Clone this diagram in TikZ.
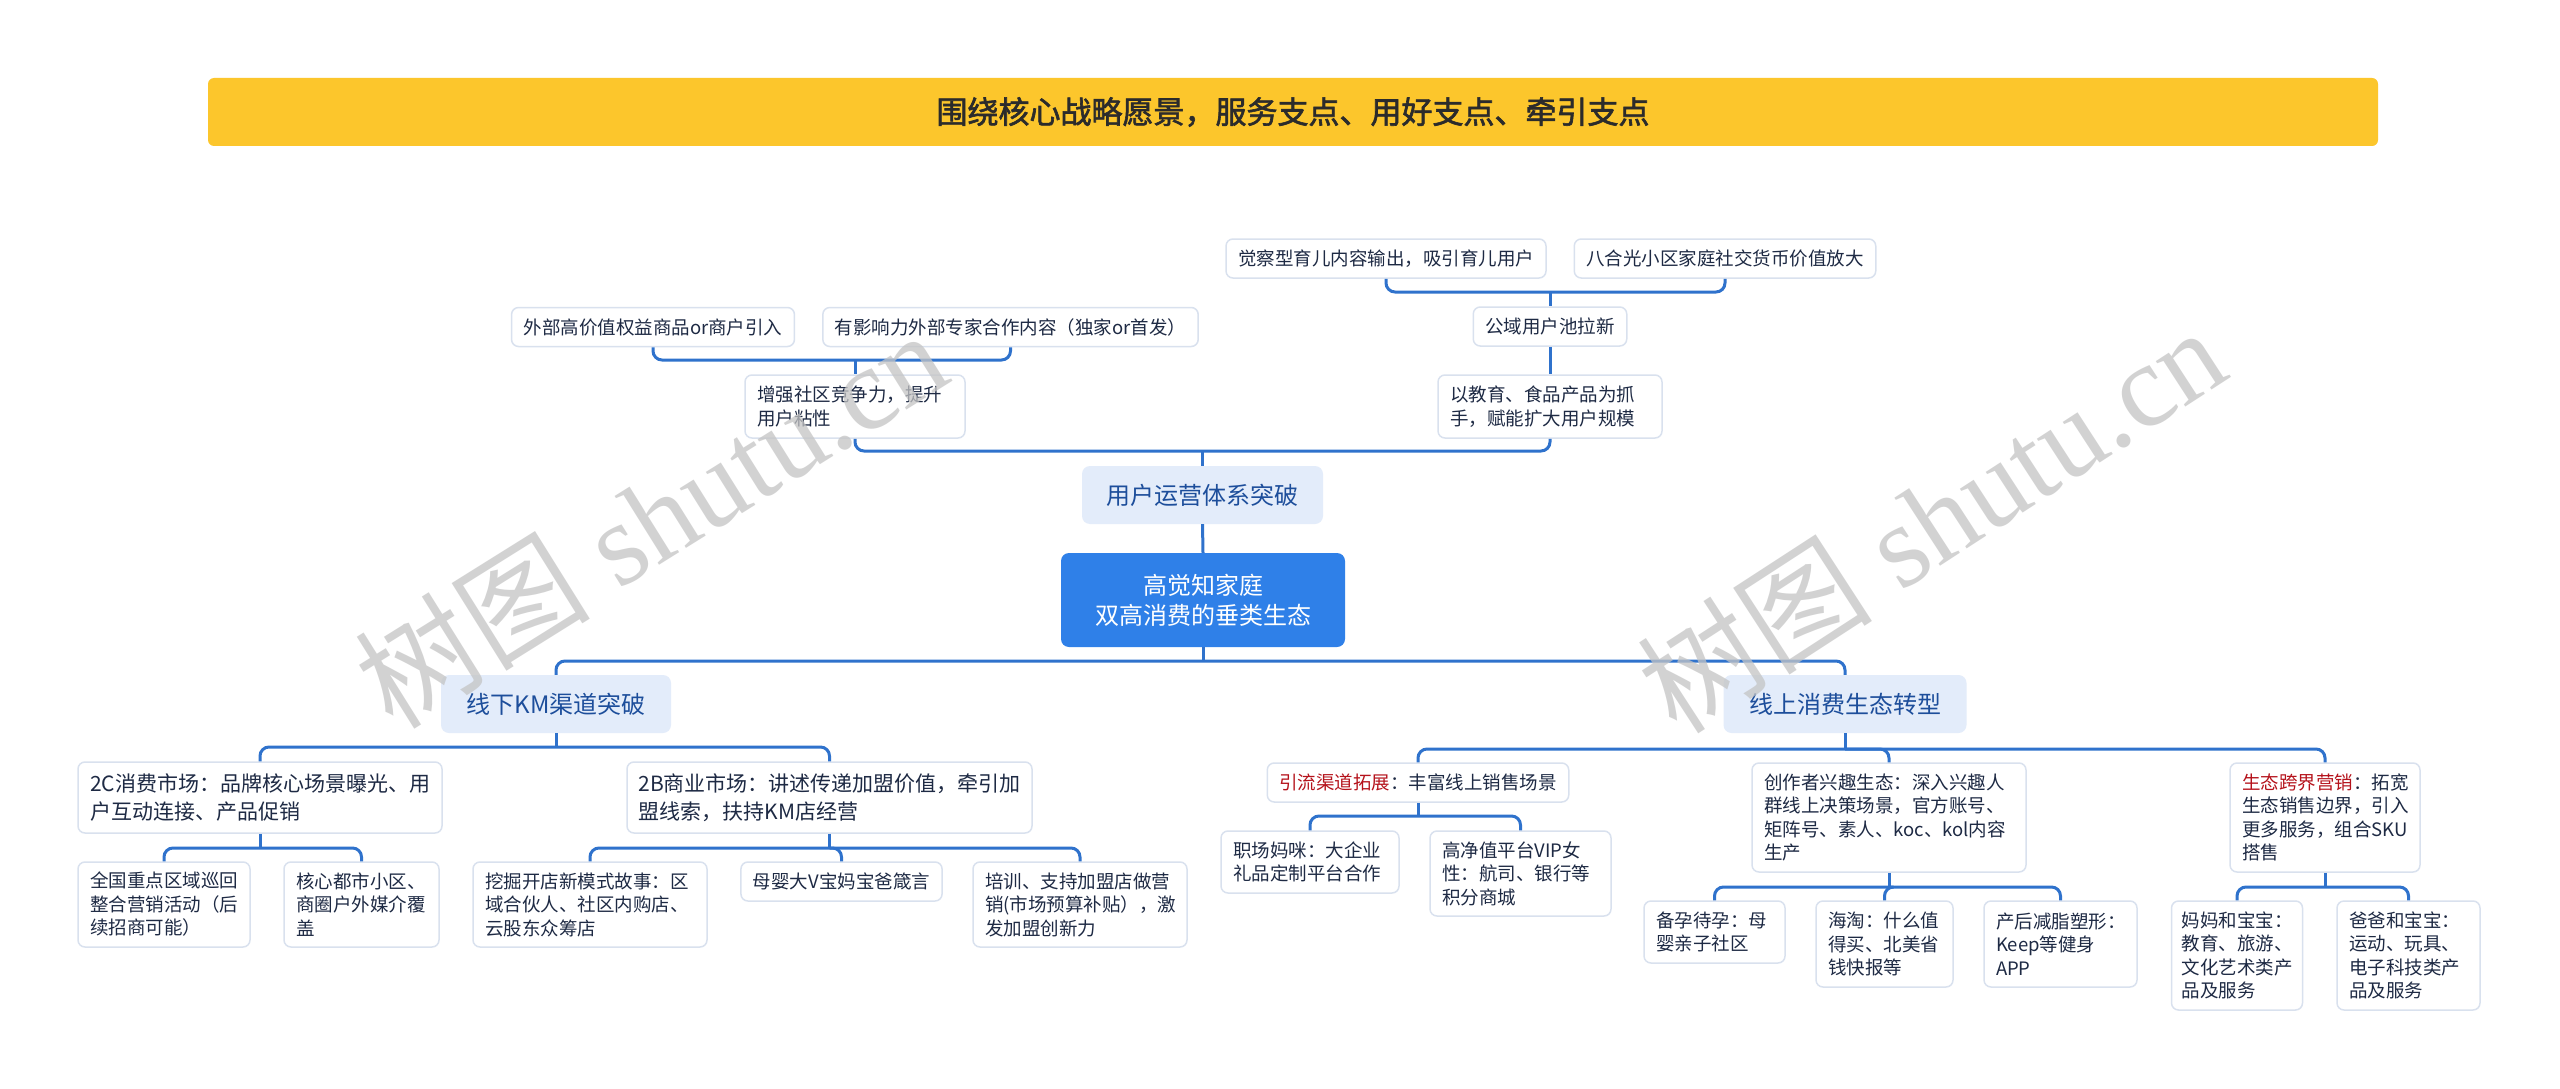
\documentclass[tikz,border=0pt]{standalone}
\usepackage{fontspec}
\setmainfont{Noto Sans CJK SC}
\newfontfamily\titlefont[FakeBold=2]{Noto Sans CJK SC}
\newfontfamily\wmcjk{Noto Sans CJK SC}
\newfontfamily\wmlatin{Liberation Serif}
\definecolor{conncol}{HTML}{2F72CC}
\definecolor{bordercol}{HTML}{D9E1EE}
\definecolor{txtcol}{HTML}{1E2A44}
\definecolor{lvlfill}{HTML}{E3ECFA}
\definecolor{lvltxt}{HTML}{1D4E9B}
\definecolor{rootfill}{HTML}{2F80E8}
\definecolor{titlefill}{HTML}{FCC62C}
\definecolor{titletxt}{HTML}{2B2B2B}
\definecolor{redtxt}{HTML}{B5121B}
\definecolor{wmcol}{HTML}{C4C4C4}
\tikzset{
 leaf/.style={draw=bordercol, line width=1.5pt, rounded corners=7pt, fill=white, text=txtcol,
   font=\fontsize{18.5}{23.5}\selectfont, align=left, inner xsep=12pt, inner ysep=6pt},
 bigleaf/.style={leaf, font=\fontsize{21}{27.7}\selectfont},
 lvl/.style={fill=lvlfill, draw=none, rounded corners=8pt, text=lvltxt,
   font=\fontsize{24}{30}\selectfont, inner sep=0pt, minimum height=58pt},
 rootbox/.style={fill=rootfill, draw=none, rounded corners=8pt, text=white,
   font=\fontsize{24}{30}\selectfont, align=center, inner sep=0pt, minimum width=284pt, minimum height=94pt},
 link/.style={draw=conncol, line width=3pt, rounded corners=9pt},
 wm/.style={text=wmcol, opacity=0.75, inner sep=0pt, font=\fontsize{118}{118}\selectfont},
}
\begin{document}
\begin{tikzpicture}[x=1pt,y=-1pt]
\useasboundingbox[fill=white] (0,0) rectangle (2560,1089);

% title
\node[fill=titlefill, rounded corners=6pt, minimum width=2170pt, minimum height=68pt, inner sep=0pt,
  text=titletxt, font=\titlefont\fontsize{31}{31}\selectfont] (title) at (1293,112)
  {围绕核心战略愿景，服务支点、用好支点、牵引支点};

% top branch
\node[leaf, minimum width=278pt, minimum height=39pt] (A1) at (653,327) {外部高价值权益商品or商户引入};
\node[leaf, minimum width=373pt, minimum height=39pt] (A2) at (1010.5,327) {有影响力外部专家合作内容（独家or首发）};
\node[leaf, text width=196pt, minimum height=63pt] (A3) at (855,406.5) {增强社区竞争力，提升\\用户粘性};
\node[leaf, minimum width=317pt, minimum height=39pt] (B1) at (1386,258.5) {觉察型育儿内容输出，吸引育儿用户};
\node[leaf, minimum width=296pt, minimum height=39pt] (B2) at (1725,258.5) {八合光小区家庭社交货币价值放大};
\node[leaf, minimum width=151pt, minimum height=39pt] (B3) at (1550,326.5) {公域用户池拉新};
\node[leaf, text width=200pt, minimum height=63pt] (B4) at (1550,406.5) {以教育、食品产品为抓\\手，赋能扩大用户规模};
\node[lvl, minimum width=241pt] (U) at (1202.5,495) {用户运营体系突破};
\node[rootbox] (Root) at (1203,600) {高觉知家庭\\双高消费的垂类生态};

% level 1
\node[lvl, minimum width=230pt] (L) at (556,704) {线下KM渠道突破};
\node[lvl, minimum width=243pt] (R) at (1845,704) {线上消费生态转型};

% left subtree
\node[bigleaf, text width=340pt, minimum height=71pt] (L1) at (260,797.5) {2C消费市场：品牌核心场景曝光、用\\户互动连接、产品促销};
\node[bigleaf, text width=382pt, inner xsep=11.5pt, minimum height=71pt] (L2) at (829.5,797.5) {2B商业市场：讲述传递加盟价值，牵引加\\盟线索，扶持KM店经营};
\node[leaf, text width=148pt, minimum height=85pt] (L11) at (164,904.5) {全国重点区域巡回\\整合营销活动（后\\续招商可能）};
\node[leaf, text width=131pt, minimum height=85pt] (L12) at (361.5,904.5) {核心都市小区、\\商圈户外媒介覆\\盖};
\node[leaf, text width=210pt, minimum height=85pt] (L21) at (590,904.5) {挖掘开店新模式故事：区\\域合伙人、社区内购店、\\云股东众筹店};
\node[leaf, minimum width=197pt, minimum height=39pt] (L22) at (841.5,881.5) {母婴大V宝妈宝爸箴言};
\node[leaf, text width=190pt, minimum height=85pt] (L23) at (1080,904.5) {培训、支持加盟店做营\\销(市场预算补贴），激\\发加盟创新力};

% right subtree
\node[leaf, minimum width=298pt, minimum height=39pt] (R1) at (1418,782.5) {{\color{redtxt}引流渠道拓展}：丰富线上销售场景};
\node[leaf, text width=154pt, minimum height=62pt] (R11) at (1310,862) {职场妈咪：大企业\\礼品定制平台合作};
\node[leaf, text width=157pt, minimum height=85pt] (R12) at (1520.5,873.5) {高净值平台VIP女\\性：航司、银行等\\积分商城};
\node[leaf, text width=250pt, minimum height=109pt] (R2) at (1889,817.5) {创作者兴趣生态：深入兴趣人\\群线上决策场景，官方账号、\\矩阵号、素人、koc、kol内容\\生产};
\node[leaf, text width=117pt, minimum height=62pt] (R21) at (1714.5,932) {备孕待孕：母\\婴亲子社区};
\node[leaf, text width=113pt, minimum height=86pt] (R22) at (1884.5,944) {海淘：什么值\\得买、北美省\\钱快报等};
\node[leaf, text width=129pt, minimum height=86pt] (R23) at (2060.5,944) {产后减脂塑形：\\Keep等健身\\APP};
\node[leaf, text width=166pt, minimum height=109pt] (R3) at (2325,817.5) {{\color{redtxt}生态跨界营销}：拓宽\\生态销售边界，引入\\更多服务，组合SKU\\搭售};
\node[leaf, text width=111pt, inner xsep=10pt, minimum height=109pt] (R31) at (2237,955.5) {妈妈和宝宝：\\教育、旅游、\\文化艺术类产\\品及服务};
\node[leaf, text width=119pt, minimum height=109pt] (R32) at (2408.5,955.5) {爸爸和宝宝：\\运动、玩具、\\电子科技类产\\品及服务};

% connectors
\coordinate (jA) at (A3.north |- 0,360);
\draw[link] (A1.south) |- (jA) -| (A2.south);
\draw[link] (jA) -- (A3.north);

\coordinate (jB) at (B3.north |- 0,292);
\draw[link] (B1.south) |- (jB) -| (B2.south);
\draw[link] (jB) -- (B3.north);
\draw[link] (B3.south) -- (B4.north);

\coordinate (jU) at (U.north |- 0,451);
\draw[link] (A3.south) |- (jU) -| (B4.south);
\draw[link] (jU) -- (U.north);
\draw[link] (U.south) -- (Root.north);

\coordinate (jRoot) at (Root.south |- 0,661);
\draw[link] (L.north) |- (jRoot) -| (R.north);
\draw[link] (Root.south) -- (jRoot);

\coordinate (jL) at (L.south |- 0,747);
\draw[link] (L1.north) |- (jL) -| (L2.north);
\draw[link] (L.south) -- (jL);

\coordinate (jL1) at (L1.south |- 0,848);
\draw[link] (L11.north) |- (jL1) -| (L12.north);
\draw[link] (L1.south) -- (jL1);

\coordinate (jL2) at (L2.south |- 0,848);
\draw[link] (L21.north) |- (jL2) -| (L23.north);
\draw[link] (L2.south) -- (jL2);
\draw[link] (jL2) -| (L22.north);

\coordinate (jR) at (R.south |- 0,749);
\draw[link] (R1.north) |- (jR) -| (R3.north);
\draw[link] (R.south) -- (jR);
\draw[link] (jR) -| (R2.north);

\coordinate (jR1) at (R1.south |- 0,816);
\draw[link] (R11.north) |- (jR1) -| (R12.north);
\draw[link] (R1.south) -- (jR1);

\coordinate (jR2) at (R2.south |- 0,887);
\draw[link] (R21.north) |- (jR2) -| (R23.north);
\draw[link] (R2.south) -- (jR2);
\draw[link] (jR2) -| (R22.north);

\coordinate (jR3) at (R3.south |- 0,887);
\draw[link] (R31.north) |- (jR3) -| (R32.north);
\draw[link] (R3.south) -- (jR3);

% watermarks
\node[wm, rotate=32] (wm1) at (650,518) {{\wmcjk 树图}\hspace{0.25em}{\wmlatin shutu.cn}};
\node[wm, rotate=33] (wm2) at (1931,519) {{\wmcjk 树图}\hspace{0.25em}{\wmlatin shutu.cn}};
\end{tikzpicture}
\end{document}
